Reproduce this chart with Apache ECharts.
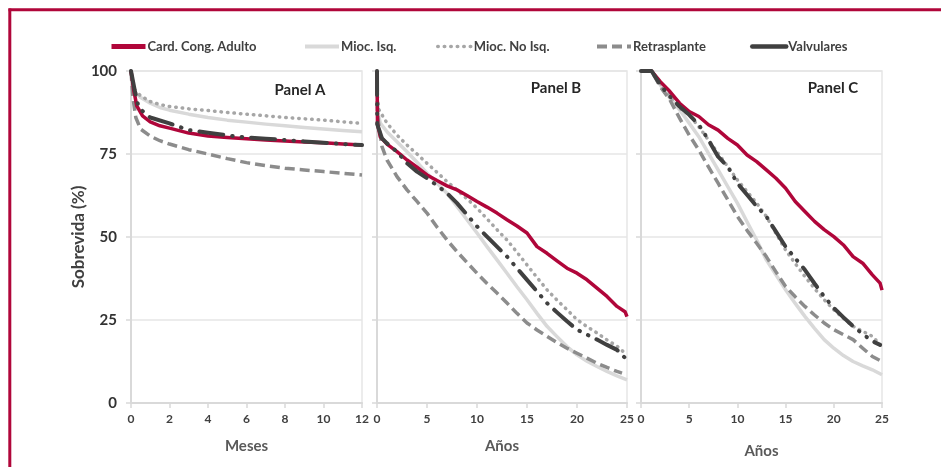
<!DOCTYPE html>
<html>
<head>
<meta charset="utf-8">
<script src="https://cdn.jsdelivr.net/npm/echarts@6/dist/echarts.min.js"></script>
<style>
html,body{margin:0;padding:0;background:#fff;}
#c{width:941px;height:467px;}
</style>
</head>
<body>
<div id="c"></div>
<script>
// ---------- DATA ----------
const seriesNames = ['Card. Cong. Adulto', 'Mioc. Isq.', 'Mioc. No Isq.', 'Retrasplante', 'Valvulares'];
const panelTitles = ['Panel A', 'Panel B', 'Panel C'];
const xTitles = ['Meses', 'Años', 'Años'];
const yTicks = [0, 25, 50, 75, 100];

// Panel A (meses)
const A_card = [[0,100],[0.15,94],[0.3,89.5],[0.6,86.5],[1,84.7],[1.5,83.5],[2,82.8],[3,81.3],[4,80.4],[5,80],[6,79.6],[7,79.2],[8,78.9],[9,78.6],[10,78.4],[11,78],[12,77.7]];
const A_miocIsq = [[0,100],[0.1,95],[0.2,93.6],[0.5,92],[1,90.3],[1.5,89],[2,88.2],[3,87],[4,86],[5,85.2],[6,84.6],[7,84],[8,83.5],[9,83],[10,82.5],[11,82.1],[12,81.7]];
const A_miocNoIsq = [[0,100],[0.1,96],[0.2,94.3],[0.5,92.5],[1,90.8],[1.5,89.9],[2,89.3],[3,88.6],[4,88.1],[5,87.5],[6,87],[7,86.5],[8,86],[9,85.6],[10,85.2],[11,84.7],[12,84.2]];
const A_retras = [[0,100],[0.1,92],[0.25,86],[0.5,82.5],[1,80.4],[1.5,79],[2,78],[3,76.3],[4,75],[5,73.6],[6,72.4],[7,71.5],[8,70.7],[9,70.2],[10,69.7],[11,69.2],[12,68.7]];
const A_valv = [[0,100],[0.2,94],[0.4,88.9],[1,86],[2,84.2],[3,82.2],[4,81.4],[5,80.6],[6,80],[7,79.6],[8,79.2],[9,78.8],[10,78.4],[11,78],[12,77.7]];

// Panel B (años)
const B_card = [[0,100],[0.05,84],[0.33,80.2],[1,78],[2,75.7],[3,73.2],[4,71],[5,68.7],[6,67],[7,65.4],[8,64.2],[9,62.5],[10,60.7],[11,59],[12,57.2],[13,55.2],[14,53.3],[15,51.2],[16,47.1],[17,45.1],[18,42.8],[19,40.6],[20,39.1],[21,37.1],[22,34.6],[23,32.1],[24,29.1],[24.8,27.5],[25,26]];
const B_miocIsq = [[0,100],[0.05,88],[0.33,84.3],[1,81.7],[2,78.7],[3,75.7],[4,72.5],[5,69.2],[6,66.2],[7,63.2],[8,59.2],[9,55.2],[10,51.2],[11,47.1],[12,43.1],[13,39.1],[14,35],[15,31.1],[16,27],[17,23.1],[18,20],[19,17],[20,14.5],[21,12.6],[22,11],[23,9.5],[24,8.2],[25,7]];
const B_miocNoIsq = [[0,100],[0.05,92],[0.2,88.3],[1,84.3],[2,80.7],[3,77.7],[4,75],[5,72.2],[6,69.5],[7,66.7],[8,64.2],[9,61.5],[10,58.7],[11,55.5],[12,52.2],[13,49.1],[14,45.4],[15,41.6],[16,37.8],[17,34.1],[18,31],[19,28.1],[20,25.1],[21,23],[22,21.1],[23,19],[24,17.1],[25,14.5]];
const B_retras = [[0,100],[0.05,87],[0.2,83.2],[0.5,77.2],[1,73.2],[2,68.2],[3,64.2],[4,60.7],[5,57.2],[6,53],[7,49.1],[8,45.6],[9,42.3],[10,39.1],[11,36],[12,33.1],[13,30.1],[14,27],[15,24.1],[16,22],[17,20.1],[18,18.2],[19,16.5],[20,15],[21,13.5],[22,12],[23,10.7],[24,9.5],[24.5,9]];
const B_valv = [[0,100],[0.02,84],[0.5,79.7],[1,78.2],[2,75.7],[3,72.2],[4,69.7],[5,67.7],[6,65.5],[7,63.2],[8,60.2],[9,56.7],[10,53.2],[11,50.1],[12,47.1],[13,44.1],[14,40.6],[15,37.1],[16,33.6],[17,30.1],[18,27.3],[19,24.6],[20,22.1],[21,20.6],[22,19.1],[23,17.5],[24,16],[25,13]];

// Panel C (años)
const C_card = [[0,100],[1.1,100],[2,96.8],[3,93.8],[4,90.3],[5,87.8],[6,86.3],[7,83.8],[8,82.2],[9,79.7],[10,77.7],[11,74.7],[12,72.7],[13,70.2],[14,67.7],[15,64.7],[16,60.7],[17,57.7],[18,54.7],[19,52.2],[20,50.1],[21,47.6],[22,44.1],[23,42.1],[24,38.6],[24.8,36.1],[25,34]];
const C_miocIsq = [[0,100],[1.1,100],[2,95.8],[3,91.8],[4,88.3],[5,84.3],[6,80.2],[7,75.2],[8,70.2],[9,65.2],[10,60.2],[11,54.6],[12,49.1],[13,43.1],[14,38.6],[15,34.1],[16,30],[17,26.1],[18,22.5],[19,19.1],[20,16.5],[21,14.3],[22,12.5],[23,11.2],[24,10],[25,8.5]];
const C_miocNoIsq = [[0,100],[1.1,100],[2,96.3],[3,92.8],[4,88.8],[5,86.8],[6,83.2],[7,79.2],[8,75.2],[9,71.2],[10,67.2],[11,63.7],[12,60.2],[13,56.2],[14,51.1],[15,46.1],[16,42],[17,38.1],[18,34.5],[19,31.1],[20,28.1],[21,25.5],[22,23.1],[23,21.6],[24,20.1],[25,17]];
const C_retras = [[0,100],[1.1,100],[2,95.3],[3,91.3],[4,85.8],[5,80.7],[6,76.2],[7,71.1],[8,66.2],[9,61.2],[10,56.2],[11,52],[12,48.1],[13,44.1],[14,39.5],[15,35.1],[16,32],[17,29.1],[18,26.5],[19,24.1],[20,22.1],[21,20.6],[22,19.1],[23,16.5],[24,14],[25,12.5]];
const C_valv = [[0,100],[1.1,100],[2,95.8],[3,92.3],[4,89.3],[5,86.8],[6,83.8],[7,79.2],[8,74.2],[9,71.2],[10,66.2],[11,62.7],[12,59.2],[13,56.2],[14,51.6],[15,47.1],[16,43.6],[17,40.1],[18,36],[19,32.1],[20,28.6],[21,25.8],[22,23.1],[23,20.8],[24,18.6],[24.8,17.5]];

const xMax = [12, 25, 25];
const xInterval = [2, 5, 5];

// ---------- STYLES ----------
const FONT = 'Lato';
const styles = {
  'Card. Cong. Adulto': {color:'#B0063A', width:3.5, type:'solid', cap:'butt', legendW:5, legendType:'solid'},
  'Mioc. Isq.': {color:'#d9d9d9', width:3.5, type:'solid', cap:'butt', legendW:4, legendType:'solid'},
  'Mioc. No Isq.': {color:'#a6a6a6', width:3.5, type:[0.5,6], cap:'round', legendW:3.5, legendType:[0.5,6]},
  'Retrasplante': {color:'#8c8c8c', width:3.5, type:[10,5], cap:'butt', legendW:4, legendType:[10,5]},
  'Valvulares': {color:'#404040', width:4, type:[24,9,0.5,9,0.5,9], cap:'round', legendW:4.5, legendType:'solid'}
};
const legendLeft = [104, 298, 431, 590, 745];
const drawOrder = ['Mioc. Isq.', 'Mioc. No Isq.', 'Retrasplante', 'Card. Cong. Adulto', 'Valvulares'];
const panelData = [
  {'Card. Cong. Adulto':A_card,'Mioc. Isq.':A_miocIsq,'Mioc. No Isq.':A_miocNoIsq,'Retrasplante':A_retras,'Valvulares':A_valv},
  {'Card. Cong. Adulto':B_card,'Mioc. Isq.':B_miocIsq,'Mioc. No Isq.':B_miocNoIsq,'Retrasplante':B_retras,'Valvulares':B_valv},
  {'Card. Cong. Adulto':C_card,'Mioc. Isq.':C_miocIsq,'Mioc. No Isq.':C_miocNoIsq,'Retrasplante':C_retras,'Valvulares':C_valv}
];

const grids = [
  {left:131, top:71, width:231, height:332},
  {left:377, top:71, width:250, height:332},
  {left:641, top:71, width:241, height:332}
].map(g => Object.assign(g, {show:true, borderColor:'#e6e6e6', borderWidth:1.5, backgroundColor:'transparent'}));

const xAxes = [0,1,2].map(i => ({
  type:'value', gridIndex:i, min:0, max:xMax[i], interval:xInterval[i],
  name:xTitles[i], nameLocation:'middle', nameGap: i===2 ? 41 : 36,
  nameTextStyle:{fontFamily:FONT, fontWeight:'bold', fontSize:15, color:'#595959'},
  axisLine:{show:true, lineStyle:{color:'#d9d9d9', width:2}},
  axisTick:{show:true, length:5, lineStyle:{color:'#d9d9d9', width:1.5}},
  axisLabel:{fontFamily:FONT, fontWeight:'bold', fontSize:12, color:'#404040', margin:10},
  splitLine:{show:false}
}));

const yAxes = [0,1,2].map(i => ({
  type:'value', gridIndex:i, min:0, max:100, interval:25,
  name: i===0 ? 'Sobrevida (%)' : '', nameLocation:'middle', nameGap:35,
  nameTextStyle:{fontFamily:FONT, fontWeight:'bold', fontSize:17, color:'#404040'},
  axisLine:{show:true, lineStyle:{color:'#d9d9d9', width:2}},
  axisTick:{show:true, length:5, lineStyle:{color:'#d9d9d9', width:1.5}},
  axisLabel:{show: i===0, fontFamily:FONT, fontWeight:'bold', fontSize:15, color:'#333333', margin:14},
  splitLine:{show:true, lineStyle:{color:'#e6e6e6', width:1.5}}
}));

const series = [];
[0,1,2].forEach(p => {
  drawOrder.forEach(name => {
    const s = styles[name];
    series.push({
      name, type:'line', xAxisIndex:p, yAxisIndex:p,
      data: panelData[p][name],
      showSymbol:false, symbol:'none', smooth:false, clip:false,
      lineStyle:{color:s.color, width:s.width, type:s.type, cap:s.cap, join:'round'},
      itemStyle:{color:s.color},
      silent:true, animation:false
    });
  });
});

const legends = seriesNames.map((n, i) => ({
  data:[n], left:legendLeft[i], top:35, itemWidth:34, itemHeight:12,
  itemStyle:{opacity:0},
  lineStyle:{width:styles[n].legendW, type:styles[n].legendType},
  selectedMode:false,
  textStyle:{fontFamily:FONT, fontWeight:'bold', fontSize:13, color:'#404040', padding:[0,0,0,-3]}
}));

const panelLabelPos = [[300,90],[556,88],[833,88]];

const option = {
  animation:false,
  backgroundColor:'#ffffff',
  legend: legends,
  grid: grids,
  xAxis: xAxes,
  yAxis: yAxes,
  series,
  graphic: [
    {type:'line', shape:{x1:8.5, y1:9.8, x2:941, y2:9.8}, style:{stroke:'#B0063A', lineWidth:3}},
    {type:'line', shape:{x1:9.8, y1:8.5, x2:9.8, y2:467}, style:{stroke:'#B0063A', lineWidth:3}}
  ].concat(panelTitles.map((t,i) => ({
    type:'text', x:panelLabelPos[i][0], y:panelLabelPos[i][1],
    style:{text:t, fontFamily:FONT, fontWeight:'bold', fontSize:15, fill:'#262626', align:'center', verticalAlign:'middle'}
  })))
};

const chart = echarts.init(document.getElementById('c'), null, {renderer:'canvas'});
chart.setOption(option);
</script>
</body>
</html>
